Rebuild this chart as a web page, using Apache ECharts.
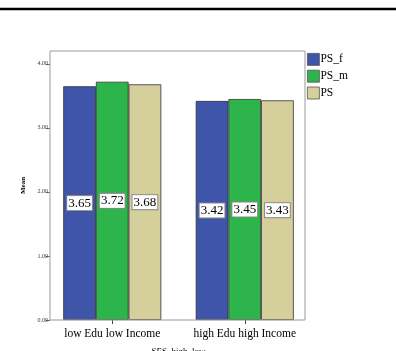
<!DOCTYPE html>
<html>
<head>
<meta charset="utf-8">
<script src="https://cdn.jsdelivr.net/npm/echarts@6/dist/echarts.min.js"></script>
<style>
  html, body { margin: 0; padding: 0; background: #fff; }
  #chart { width: 396px; height: 351px; }
</style>
</head>
<body>
<div id="chart"></div>
<script>
// 数据
var categories = ["low Edu low Income", "high Edu high Income"];
var seriesNames = ["PS_f", "PS_m", "PS"];
var psF = [3.65, 3.42];
var psM = [3.72, 3.45];
var ps = [3.68, 3.43];
var yTicks = [0, 1, 2, 3, 4];
var colors = ["#3f55a9", "#2db44b", "#d5cf9b"];

var serif = "'Liberation Serif', 'DejaVu Serif', serif";
var chart = echarts.init(document.getElementById("chart"));

function makeSeries(name, data, color) {
  return {
    name: name,
    type: "bar",
    data: data,
    barGap: "0%",
    barCategoryGap: "26%",
    itemStyle: { color: color, borderColor: "#333", borderWidth: 0.8 },
    label: {
      show: true,
      position: "inside",
      formatter: function (p) { return p.value.toFixed(2); },
      fontFamily: serif,
      fontSize: 13,
      color: "#000",
      backgroundColor: "#fff",
      borderColor: "#888",
      borderWidth: 1,
      padding: [1, 1, 0, 1]
    }
  };
}

chart.setOption({
  animation: false,
  textStyle: { fontFamily: serif },
  legend: {
    orient: "vertical",
    left: 302,
    top: 48,
    itemWidth: 12,
    itemHeight: 12,
    itemGap: 4,
    icon: "rect",
    data: seriesNames,
    itemStyle: { borderColor: "#555", borderWidth: 0.8 },
    textStyle: { fontFamily: serif, fontSize: 11.5, color: "#000", padding: [0, 0, 0, -4] }
  },
  grid: { left: 46, width: 265, top: 51, height: 269, show: false, outerBoundsMode: "none", containLabel: false },
  xAxis: {
    type: "category",
    data: categories,
    name: "SES_high_low",
    nameLocation: "middle",
    nameGap: 27,
    nameTextStyle: { fontFamily: serif, fontSize: 9, color: "#000" },
    axisLine: { show: false },
    axisTick: { show: true, alignWithLabel: true, length: 4, lineStyle: { color: "#444" } },
    axisLabel: { interval: 0, hideOverlap: false, fontFamily: serif, fontSize: 11.5, color: "#000", margin: 8 }
  },
  yAxis: {
    type: "value",
    min: 0,
    max: 4.2,
    interval: 1,
    offset: -4,
    name: "Mean",
    nameLocation: "middle",
    nameGap: 13,
    nameTextStyle: { fontFamily: serif, fontSize: 7, fontWeight: "bold", color: "#000" },
    axisLine: { show: false },
    splitLine: { show: false },
    axisTick: { show: true, length: 4, customValues: yTicks, lineStyle: { color: "#666" } },
    axisLabel: {
      customValues: yTicks,
      formatter: function (v) { return v.toFixed(2); },
      fontFamily: serif, fontSize: 6, color: "#333", margin: 2
    }
  },
  graphic: [
    { type: "line", shape: { x1: 0, y1: 9, x2: 396, y2: 9 }, style: { stroke: "#000", lineWidth: 2.5 } },
    { type: "rect", z: 10, shape: { x: 50, y: 51, width: 255, height: 269 }, style: { fill: "none", stroke: "#999", lineWidth: 1 } }
  ],
  series: [
    makeSeries(seriesNames[0], psF, colors[0]),
    makeSeries(seriesNames[1], psM, colors[1]),
    makeSeries(seriesNames[2], ps, colors[2])
  ]
});
</script>
</body>
</html>
